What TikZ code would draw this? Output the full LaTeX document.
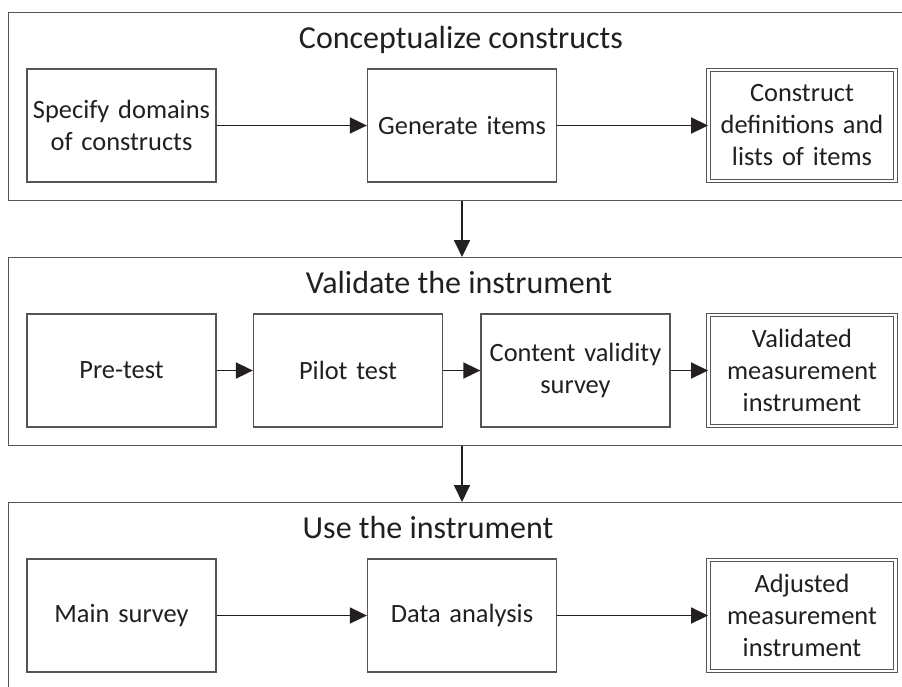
\documentclass[tikz,border=0pt]{standalone}
\usepackage{fontspec}
\setmainfont{Carlito}
\usetikzlibrary{arrows.meta}
\definecolor{ink}{HTML}{231F20}
\definecolor{frame}{HTML}{555555}
\begin{document}
\begin{tikzpicture}[x=1pt,y=-1pt,
  panel/.style={draw=frame,line width=1.4pt,minimum width=912pt,minimum height=188pt,anchor=north west,inner sep=0pt},
  stepbox/.style={draw=frame,line width=1.3pt,minimum width=189pt,minimum height=113pt,text width=185pt,align=center,inner sep=0pt,font=\fontsize{26.4}{32}\selectfont,text=ink},
  outbox/.style={stepbox,minimum width=187pt,minimum height=111pt,line width=0.9pt,double=white,double distance=2.4pt},
  ptitle/.style={anchor=base,inner sep=0pt,font=\fontsize{32}{38}\selectfont,text=ink},
  arr/.style={draw=ink,line width=1.8pt,-{Triangle[length=17pt,width=16pt]}}
]
\useasboundingbox (0,0) rectangle (902,686);
\fill[white] (0,0) rectangle (902,686);
\begin{scope}
\clip (0,0) rectangle (902,686);
\node[panel] (p1) at (8,12) {};
\node[panel] (p2) at (8,257) {};
\node[panel] (p3) at (8,502) {};
\end{scope}
% titles
\node[ptitle] (t1) at (461,48) {Conceptualize constructs};
\node[ptitle] (t2) at (459,293) {Validate the instrument};
\node[ptitle] (t3) at (428,538) {Use the instrument};
% row 1
\node[stepbox] (a1) at (121.5,125.5) {Specify domains\\of constructs};
\node[stepbox] (a2) at (462,125.5) {Generate items};
\node[outbox] (a3) at (802,125.5) {Construct\\definitions and\\lists of items};
% row 2
\node[stepbox] (b1) at (121.5,370.5) {Pre-test};
\node[stepbox] (b2) at (348,370.5) {Pilot test};
\node[stepbox] (b3) at (575.5,370.5) {Content validity\\survey};
\node[outbox] (b4) at (802,370.5) {Validated\\measurement\\instrument};
% row 3
\node[stepbox] (c1) at (121.5,615.5) {Main survey};
\node[stepbox] (c2) at (462,615.5) {Data analysis};
\node[outbox] (c3) at (802,615.5) {Adjusted\\measurement\\instrument};
% arrows
\draw[arr] (a1) -- (a2);
\draw[arr] (a2) -- (a3);
\draw[arr] (b1) -- (b2);
\draw[arr] (b2) -- (b3);
\draw[arr] (b3) -- (b4);
\draw[arr] (c1) -- (c2);
\draw[arr] (c2) -- (c3);
\draw[arr] (a2 |- p1.south) -- (a2 |- p2.north);
\draw[arr] (a2 |- p2.south) -- (a2 |- p3.north);
\end{tikzpicture}
\end{document}
